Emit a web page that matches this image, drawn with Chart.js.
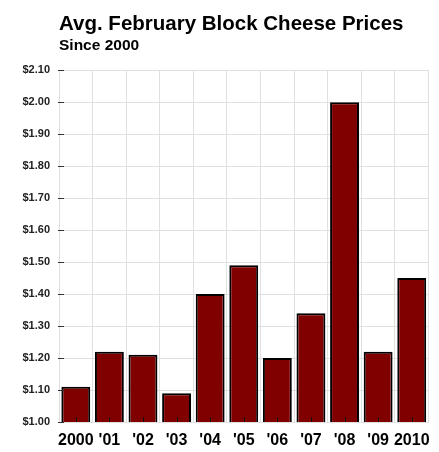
<!DOCTYPE html>
<html>
<head>
<meta charset="utf-8">
<script src="https://cdn.jsdelivr.net/npm/chart.js@4/dist/chart.umd.min.js"></script>
<style>
  html, body { margin: 0; padding: 0; background: #ffffff; }
  #wrap { width: 439px; height: 452px; position: relative; }
</style>
</head>
<body>
<div id="wrap"><canvas id="c" width="439" height="452"></canvas></div>
<script>
const categories = ["2000", "'01", "'02", "'03", "'04", "'05", "'06", "'07", "'08", "'09", "2010"];
const prices = [1.11, 1.22, 1.21, 1.09, 1.40, 1.49, 1.20, 1.34, 2.00, 1.22, 1.45];
const yTicks = [1.00, 1.10, 1.20, 1.30, 1.40, 1.50, 1.60, 1.70, 1.80, 1.90, 2.00, 2.10];
const titleText = "Avg. February Block Cheese Prices";
const subtitleText = "Since 2000";

const FONT = "'Liberation Sans', Arial, Helvetica, sans-serif";

const innerTicks = {
  id: 'innerTicks',
  afterDatasetsDraw(chart) {
    const ctx = chart.ctx;
    const x = chart.scales.x, y = chart.scales.y;
    const area = chart.chartArea;
    ctx.save();
    ctx.strokeStyle = '#333333';
    ctx.lineWidth = 1;
    yTicks.forEach(v => {
      const py = Math.round(y.getPixelForValue(v)) + 0.5;
      ctx.beginPath();
      ctx.moveTo(area.left - 1, py);
      ctx.lineTo(area.left + 5, py);
      ctx.stroke();
    });
    ctx.strokeStyle = '#111111';
    categories.forEach((c, i) => {
      const px = Math.round(x.getPixelForValue(i)) + 0.5;
      ctx.beginPath();
      ctx.moveTo(px, area.bottom);
      ctx.lineTo(px, area.bottom - 5);
      ctx.stroke();
    });
    ctx.restore();
  }
};

new Chart(document.getElementById('c'), {
  type: 'bar',
  data: {
    labels: categories,
    datasets: [{
      data: prices,
      backgroundColor: '#800000',
      borderColor: '#000000',
      borderWidth: 2,
      borderSkipped: false,
      barPercentage: 0.86,
      categoryPercentage: 1.0
    }]
  },
  options: {
    responsive: false,
    animation: false,
    devicePixelRatio: 1,
    layout: { padding: { left: 22, right: 9, top: 0, bottom: 0 } },
    plugins: {
      legend: { display: false },
      tooltip: { enabled: false },
      title: {
        display: true,
        text: titleText,
        align: 'start',
        fullSize: false,
        color: '#000000',
        font: { family: FONT, size: 20.5, weight: 'bold' },
        padding: { top: 12, bottom: 0 }
      },
      subtitle: {
        display: true,
        text: subtitleText,
        align: 'start',
        fullSize: false,
        color: '#000000',
        font: { family: FONT, size: 15.5, weight: 'bold' },
        padding: { top: 0, bottom: 15 }
      }
    },
    scales: {
      x: {
        afterFit(scale) { scale.height = 30; },
        grid: { color: '#e0e0e0', lineWidth: 1, drawTicks: false, offset: true },
        border: { color: '#e0e0e0' },
        ticks: {
          color: '#000000',
          font: { family: FONT, size: 16, weight: 'bold' },
          padding: 9,
          maxRotation: 0,
          autoSkip: false
        }
      },
      y: {
        min: 1.0,
        max: 2.1,
        afterFit(scale) { scale.width = 37; },
        afterBuildTicks(scale) {
          scale.ticks = yTicks.map(v => ({ value: v }));
        },
        grid: { color: '#e0e0e0', lineWidth: 1, drawTicks: false },
        border: { color: '#e0e0e0' },
        ticks: {
          color: '#222222',
          font: { family: FONT, size: 11, weight: 'bold' },
          padding: 9,
          callback: v => '$' + Number(v).toFixed(2)
        }
      }
    }
  },
  plugins: [innerTicks]
});
</script>
</body>
</html>
